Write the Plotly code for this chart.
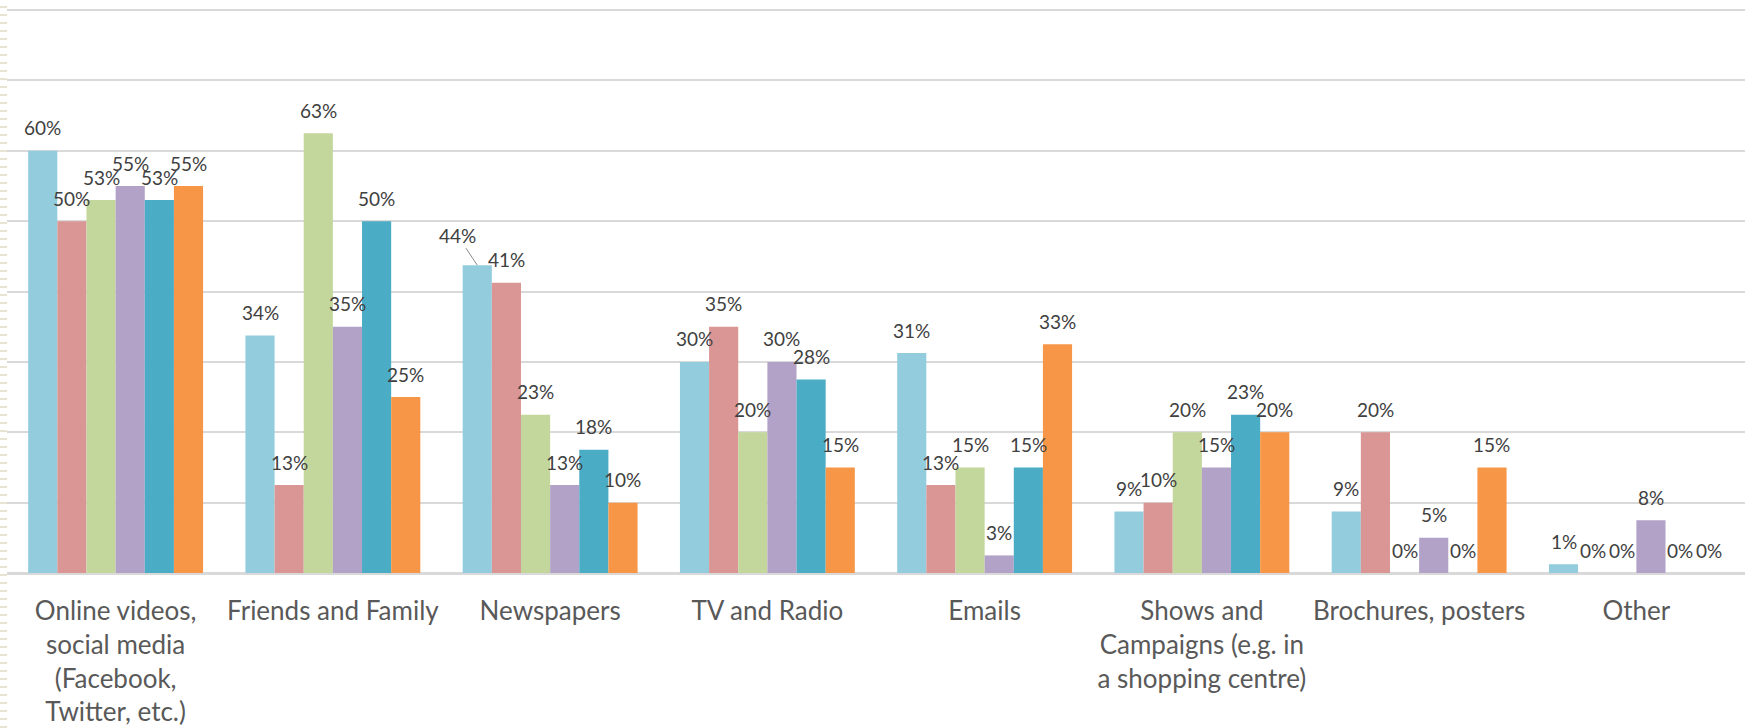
import math
import plotly.graph_objects as go

categories = [
    "Online videos,<br>social media<br>(Facebook,<br>Twitter, etc.)",
    "Friends and Family",
    "Newspapers",
    "TV and Radio",
    "Emails",
    "Shows and<br>Campaigns (e.g. in<br>a shopping centre)",
    "Brochures, posters",
    "Other",
]

series_names = ["Series 1", "Series 2", "Series 3", "Series 4", "Series 5", "Series 6"]

s1 = [60, 33.75, 43.75, 30, 31.25, 8.75, 8.75, 1.25]
s2 = [50, 12.5, 41.25, 35, 12.5, 10, 20, 0]
s3 = [53, 62.5, 22.5, 20, 15, 20, 0, 0]
s4 = [55, 35, 12.5, 30, 2.5, 15, 5, 7.5]
s5 = [53, 50, 17.5, 27.5, 15, 22.5, 0, 0]
s6 = [55, 25, 10, 15, 32.5, 20, 15, 0]
series_values = [s1, s2, s3, s4, s5, s6]

colors = ["#93CDDD", "#D99694", "#C3D69B", "#B3A2C7", "#4BACC6", "#F79646"]

W, H = 1745, 728
M_L, M_R, M_T, M_B = 7, 0, 8, 155
BARGAP = 0.195
Y_MAX = 80.3

fig = go.Figure()
for name, vals, col in zip(series_names, series_values, colors):
    fig.add_trace(go.Bar(
        name=name, x=categories, y=vals,
        marker=dict(color=col, line=dict(width=0)),
        hoverinfo="x+y",
    ))

# data labels, placed above each bar like the original
plot_w = W - M_L - M_R
cat_w = plot_w / len(categories)
n = len(series_names)
bar_w = cat_w * (1 - BARGAP) / n


def fmt(v):
    return f"{int(math.floor(v + 0.5))}%"


label_font = dict(family="Lato", size=19, color="#404040")
annotations = []
for i, vals in enumerate(series_values):
    xs = (i - (n - 1) / 2) * bar_w
    for j, v in enumerate(vals):
        if i == 0 and j == 2:
            annotations.append(dict(
                x=categories[j], y=v, xref="x", yref="y", text=fmt(v),
                showarrow=True, arrowhead=0, arrowwidth=1, arrowcolor="#8c8c8c",
                ax=-20, ay=-30, xshift=xs, standoff=0, font=label_font,
            ))
        else:
            annotations.append(dict(
                x=categories[j], y=v, xref="x", yref="y", text=fmt(v),
                showarrow=False, xshift=xs, yshift=23, yanchor="middle",
                font=label_font,
            ))

fig.update_layout(
    width=W, height=H,
    margin=dict(l=M_L, r=M_R, t=M_T, b=M_B, pad=0, autoexpand=False),
    barmode="group", bargap=BARGAP, bargroupgap=0,
    plot_bgcolor="white", paper_bgcolor="white",
    showlegend=False,
    annotations=annotations,
    font=dict(family="Lato", color="#595959"),
    shapes=[dict(
        type="line", xref="paper", yref="paper",
        x0=-3.5 / plot_w, x1=-3.5 / plot_w,
        y0=-M_B / (H - M_T - M_B), y1=1 + M_T / (H - M_T - M_B),
        line=dict(color="#E9E4D2", width=7, dash="2px,6px"),
    )],
)
fig.update_xaxes(
    showline=False, showgrid=False, ticks="", automargin=False,
    tickfont=dict(family="Lato", size=26, color="#595959"),
    ticklabelstandoff=20, tickangle=0,
)
fig.update_yaxes(
    range=[0, Y_MAX], dtick=10, showticklabels=False, automargin=False,
    showgrid=True, gridcolor="#D9D9D9", gridwidth=2,
    zeroline=True, zerolinecolor="#D9D9D9", zerolinewidth=3,
    showline=False, ticks="",
)

fig.write_html(
    "out.html",
    config={"displayModeBar": False},
    post_script="document.body.style.margin='0';document.body.style.padding='0';",
)
